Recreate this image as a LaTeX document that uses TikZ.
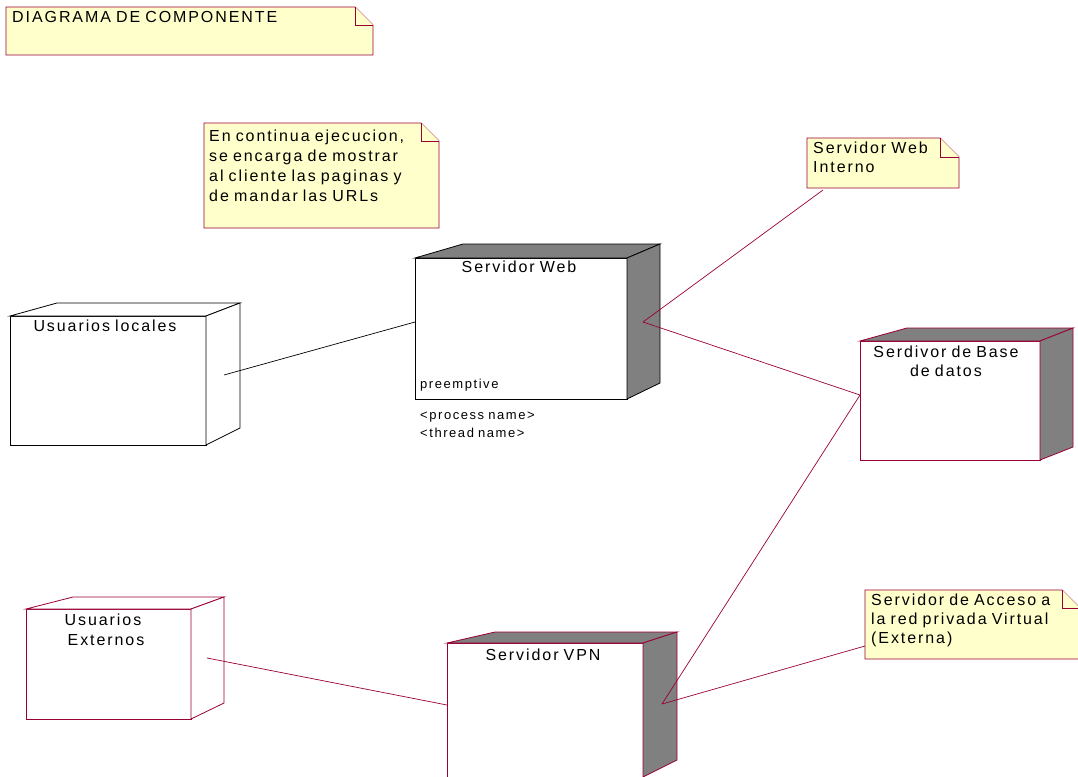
\documentclass[tikz,border=0pt]{standalone}
\usepackage{fontspec}
\newfontfamily\rosefont[LetterSpace=12,WordSpace=0.8]{Liberation Sans}
\definecolor{rosered}{RGB}{153,0,51}
\definecolor{noteyellow}{RGB}{255,255,204}
\definecolor{nodegray}{RGB}{128,128,128}
\tikzset{
  notebox/.style={draw=rosered, fill=noteyellow, line width=0.8pt, line join=miter},
  blackbox/.style={draw=black, line width=0.8pt},
  redbox/.style={draw=rosered, line width=0.8pt},
  lbl/.style={font=\rosefont\fontsize{16}{20}\selectfont, inner sep=0pt, text=black},
  smalllbl/.style={font=\rosefont\fontsize{13}{16}\selectfont, inner sep=0pt, anchor=base west, text=black},
  conn/.style={draw=rosered, line width=0.7pt},
  blackconn/.style={draw=black, line width=0.7pt},
}
\begin{document}
\begin{tikzpicture}[x=1pt,y=-1pt]
\useasboundingbox (0,0) rectangle (1078,776);
\clip (0,0) rectangle (1078,776);
\fill[white] (0,0) rectangle (1078,776);

% ---- title note
\draw[notebox] (6,7) -- (355,7) -- (373,25) -- (373,55) -- (6,55) -- cycle;
\draw[notebox] (355,7) -- (355,25) -- (373,25);
\node[lbl, anchor=base west] (title) at (12,23) {DIAGRAMA DE COMPONENTE};

% ---- note for Servidor Web
\draw[notebox] (204,123) -- (421,123) -- (439,141) -- (439,228) -- (204,228) -- cycle;
\draw[notebox] (421,123) -- (421,141) -- (439,141);
\node[lbl, anchor=base west] (n1) at (209,141) {En continua ejecucion,};
\node[lbl, anchor=base west] (n2) at (209,161) {se encarga de mostrar};
\node[lbl, anchor=base west] (n3) at (209,181) {al cliente las paginas y};
\node[lbl, anchor=base west] (n4) at (209,201) {de mandar las URLs};

% ---- note Servidor Web Interno
\draw[notebox] (807,138) -- (940,138) -- (959,157) -- (959,188) -- (807,188) -- cycle;
\draw[notebox] (940,138) -- (940,157) -- (959,157);
\node[lbl, anchor=base west] (wi1) at (813,153) {Servidor Web};
\node[lbl, anchor=base west] (wi2) at (813,172) {Interno};

% ---- note VPN
\draw[notebox] (865,590) -- (1062,590) -- (1080,608) -- (1080,659) -- (865,659) -- cycle;
\draw[notebox] (1062,590) -- (1062,608) -- (1080,608);
\node[lbl, anchor=base west] (v1) at (871,605) {Servidor de Acceso a};
\node[lbl, anchor=base west] (v2) at (871,624) {la red privada Virtual};
\node[lbl, anchor=base west] (v3) at (871,643) {(Externa)};

% ---- Servidor Web node
\draw[blackbox, fill=white] (415,258) rectangle (627,399);
\draw[blackbox, fill=nodegray] (415,258) -- (463,244) -- (660,244) -- (627,258) -- cycle;
\draw[blackbox, fill=nodegray] (627,258) -- (660,244) -- (660,383) -- (627,399) -- cycle;
\node[lbl, anchor=base] (web) at (519,272) {Servidor Web};
\node[smalllbl] (pre) at (420,388) {preemptive};
\node[smalllbl] (proc) at (420,419) {<process name>};
\node[smalllbl] (thr) at (420,437) {<thread name>};

% ---- Usuarios locales node
\draw[blackbox, fill=white] (10,316) rectangle (206,445);
\draw[blackbox, fill=white] (10,316) -- (57,303) -- (240,303) -- (206,316) -- cycle;
\draw[blackbox, fill=white] (206,316) -- (240,303) -- (240,428) -- (206,445) -- cycle;
\node[lbl, anchor=base] (loc) at (105,331) {Usuarios locales};

% ---- Base de datos node
\draw[redbox, fill=white] (860,341) rectangle (1040,460);
\draw[redbox, fill=nodegray] (860,341) -- (907,328) -- (1073,328) -- (1040,341) -- cycle;
\draw[redbox, fill=nodegray] (1040,341) -- (1073,328) -- (1073,447) -- (1040,460) -- cycle;
\node[lbl, anchor=base] (db1) at (946,357) {Serdivor de Base};
\node[lbl, anchor=base] (db2) at (946,376) {de datos};

% ---- Usuarios Externos node
\draw[redbox, fill=white] (26,609) rectangle (191,719);
\draw[redbox, fill=white] (26,609) -- (73,597) -- (224,597) -- (191,609) -- cycle;
\draw[redbox, fill=white] (191,609) -- (224,597) -- (224,703) -- (191,719) -- cycle;
\node[lbl, anchor=base] (ext1) at (103,625) {Usuarios};
\node[lbl, anchor=base] (ext2) at (106,645) {Externos};

% ---- Servidor VPN node
\draw[redbox, fill=white] (447,643) rectangle (643,790);
\draw[redbox, fill=nodegray] (447,643) -- (495,632) -- (677,632) -- (643,643) -- cycle;
\draw[redbox, fill=nodegray] (643,643) -- (677,632) -- (677,760) -- (643,777) -- cycle;
\node[lbl, anchor=base] (vpn) at (543,660) {Servidor VPN};

% ---- connector end points
\coordinate (locR) at (224,375);
\coordinate (webL) at (415,322);
\coordinate (webR) at (643,322);
\coordinate (wiB) at (823,190);
\coordinate (dbL) at (860,395);
\coordinate (vpnR) at (662,704);
\coordinate (vpnNote) at (865,646);
\coordinate (extR) at (207,658);
\coordinate (vpnL) at (447,705);

% ---- connectors
\draw[blackconn] (locR) -- (webL);
\draw[conn] (wiB) -- (webR);
\draw[conn] (webR) -- (dbL);
\draw[conn] (dbL) -- (vpnR);
\draw[conn] (vpnR) -- (vpnNote);
\draw[conn] (extR) -- (vpnL);
\end{tikzpicture}
\end{document}
